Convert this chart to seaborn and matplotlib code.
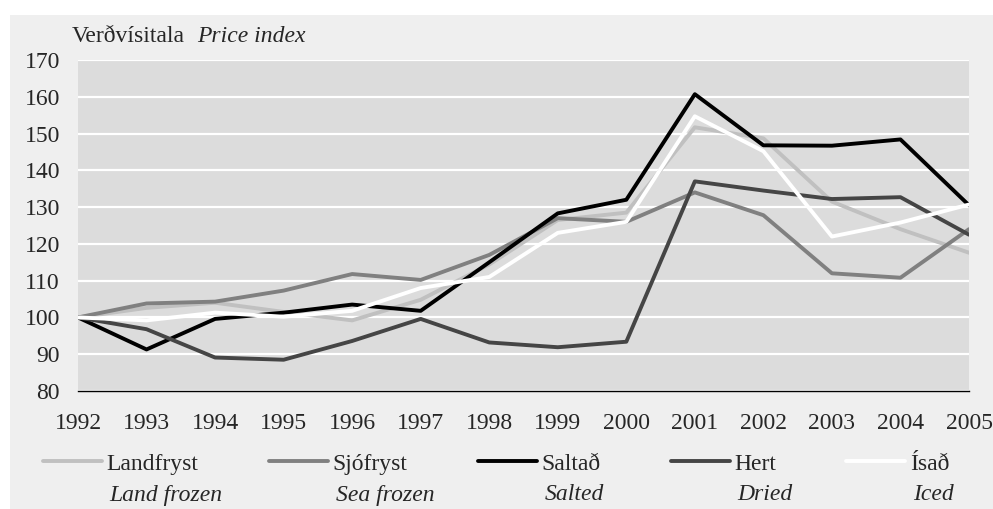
import matplotlib
matplotlib.use("Agg")
import matplotlib.pyplot as plt
from matplotlib.lines import Line2D
from matplotlib.patches import Rectangle
import seaborn as sns
import pandas as pd

# Data
years = list(range(1992, 2006))
landfryst = [100, 102.6, 104, 101.5, 99.2, 104.8, 114.4, 126.5, 128.5, 151.7, 148.7, 131.5, 124, 117.6]
sjofryst = [100, 103.8, 104.3, 107.3, 111.8, 110.2, 117, 127, 126, 134, 127.8, 112, 110.8, 124]
saltad = [100, 91.3, 99.6, 101.3, 103.5, 101.8, 115, 128.3, 132, 160.7, 146.8, 146.7, 148.4, 130.5]
hert = [100, 96.8, 89.1, 88.5, 93.6, 99.6, 93.2, 91.9, 93.4, 137, 134.5, 132.2, 132.7, 122.5]
isad = [100, 99.2, 101.3, 100.2, 101.8, 108, 111, 123, 126, 154.7, 145.2, 122, 125.8, 130.7]

series = ["Landfryst", "Sjófryst", "Saltað", "Hert", "Ísað"]
english = ["Land frozen", "Sea frozen", "Salted", "Dried", "Iced"]
colors = ["#c0c0c0", "#808080", "#000000", "#454545", "#ffffff"]

df = pd.DataFrame({"Ár": years, "Landfryst": landfryst, "Sjófryst": sjofryst,
                   "Saltað": saltad, "Hert": hert, "Ísað": isad})
long = df.melt(id_vars="Ár", var_name="Tegund", value_name="Vísitala")

sns.set_style("white")
plt.rcParams["font.family"] = ["Liberation Serif", "DejaVu Serif"]

fig = plt.figure(figsize=(9.93, 5.09), dpi=100)
fig.patch.set_facecolor("white")
# light grey outer panel
fig.patches.append(Rectangle((10 / 993, 0), 1, 1 - 15 / 509, transform=fig.transFigure,
                             facecolor="#efefef", edgecolor="none", zorder=-10))

ax = fig.add_axes([78 / 993, 118 / 509, 891 / 993, 331 / 509])
ax.set_facecolor("#dcdcdc")

sns.lineplot(data=long, x="Ár", y="Vísitala", hue="Tegund", hue_order=series,
             palette=dict(zip(series, colors)), linewidth=2.8, ax=ax, legend=False)

ax.set_xlim(1992, 2005)
ax.set_ylim(80, 170)
ax.set_xticks(years)
ax.set_yticks(range(80, 171, 10))
ax.set_xlabel("")
ax.set_ylabel("")
ax.yaxis.grid(True, color="white", linewidth=1.6)
ax.xaxis.grid(False)
ax.set_axisbelow(True)
for s in ["left", "right", "top"]:
    ax.spines[s].set_visible(False)
ax.spines["bottom"].set_color("black")
ax.spines["bottom"].set_linewidth(1)
ax.tick_params(axis="y", length=0, pad=13, labelsize=17)
ax.tick_params(axis="x", length=0, pad=16, labelsize=17)

fig.text(72 / 993, 1 - 37 / 509, "Verðvísitala", fontsize=17, va="center", ha="left")
fig.text(197 / 993, 1 - 37 / 509, "Price index", fontsize=17, va="center", ha="left",
         style="italic")

handles = [Line2D([], [], color=c, linewidth=2.8) for c in colors]
leg = fig.legend(handles, series, ncol=5, loc="center left",
                 bbox_to_anchor=(43 / 993, 1 - 464 / 509), frameon=False,
                 fontsize=17, handlelength=2.5, handletextpad=0.2,
                 columnspacing=2.97, borderpad=0, borderaxespad=0)

fig.canvas.draw()
for t, en in zip(leg.get_texts(), english):
    bb = t.get_window_extent()
    fig.text((bb.x0 + 3) / 993, 1 - 495 / 509, en, fontsize=17, style="italic",
             va="center", ha="left")

fig.savefig("out.png", dpi=100)
